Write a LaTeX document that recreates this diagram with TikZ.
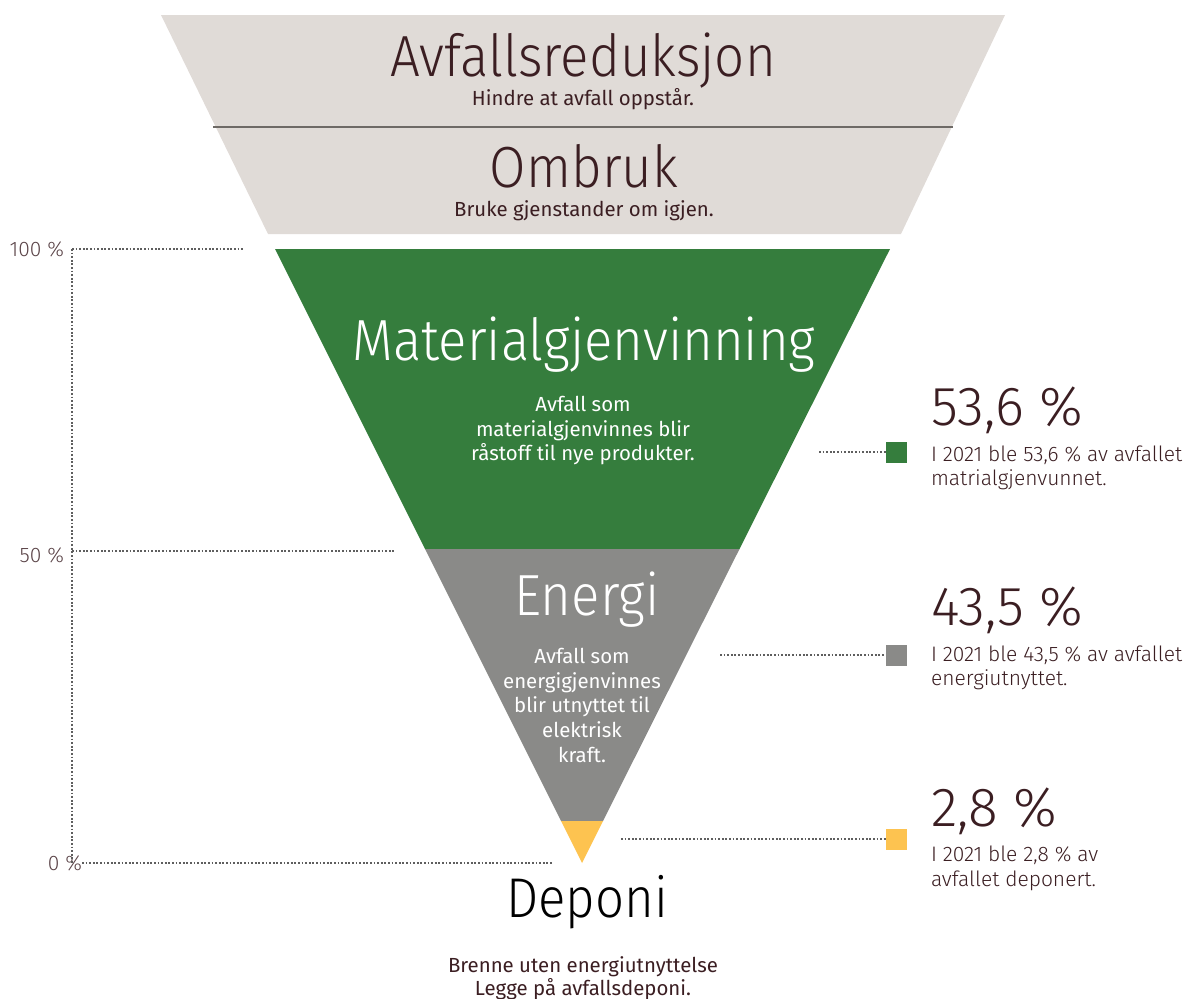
\documentclass[tikz,border=0pt]{standalone}
\usepackage{fontspec}
\setmainfont{Fira Sans}
\newfontfamily\lightfont{Fira Sans Light}
\newfontfamily\narrowlight{Fira Sans Light}[FakeStretch=0.91]
\definecolor{topgrey}{HTML}{E0DBD7}
\definecolor{sepline}{HTML}{6E6A66}
\definecolor{mgreen}{HTML}{357D3D}
\definecolor{mgrey}{HTML}{8A8A88}
\definecolor{myellow}{HTML}{FDC350}
\definecolor{tdark}{HTML}{3B1E22}
\definecolor{tlabel}{HTML}{5A4347}
\definecolor{dotc}{HTML}{5E5E5E}
\begin{document}
\begin{tikzpicture}[x=1pt,y=-1pt,
  every node/.style={inner sep=0pt,outer sep=0pt,anchor=base},
  head/.style={font=\narrowlight\fontsize{58}{60}\selectfont},
  sub/.style={font=\fontsize{20.4}{23}\selectfont},
  pct/.style={font=\lightfont\fontsize{55}{58}\selectfont,text=tdark,anchor=base west},
  desc/.style={font=\lightfont\fontsize{21}{24}\selectfont,text=tdark,anchor=base west},
  axl/.style={font=\lightfont\fontsize{21}{24}\selectfont,text=tlabel,anchor=base east},
  dots/.style={draw=dotc,line width=1.2pt,dash pattern=on 1.8pt off 1.8pt},
  sq/.style={minimum size=21pt,anchor=center}]
\useasboundingbox (0,0) rectangle (1187,999);
% funnel
\fill[topgrey] (161,15) -- (1005,15) -- (901,234) -- (268,234) -- cycle;
\coordinate (sepL) at (213,127);
\coordinate (sepR) at (953,127);
\draw[sepline,line width=2pt] (sepL) -- (sepR);
\fill[mgreen] (275,249) -- (890,249) -- (739.5,549) -- (425,549) -- cycle;
\fill[mgrey] (425,549) -- (739.5,549) -- (603,821) -- (561,821) -- cycle;
\fill[myellow] (561,821) -- (603,821) -- (582,863) -- cycle;
% top texts
\node[head,text=tdark] (t1) at (583,76) {Avfallsreduksjon};
\node[sub,text=tdark] (t1s) at (583,105) {Hindre at avfall oppstår.};
\node[head,text=tdark] (t2) at (584,187) {Ombruk};
\node[sub,text=tdark] (t2s) at (584,216) {Bruke gjenstander om igjen.};
% green
\node[head,text=white] (t3) at (584,360) {Materialgjenvinning};
\node[sub,text=white] (t3a) at (583,411) {Avfall som};
\node[sub,text=white] (t3b) at (583,436) {materialgjenvinnes blir};
\node[sub,text=white] (t3c) at (583,460) {råstoff til nye produkter.};
% grey
\node[head,text=white] (t4) at (587,615) {Energi};
\node[sub,text=white] (t4a) at (582,663) {Avfall som};
\node[sub,text=white] (t4b) at (582,688) {energigjenvinnes};
\node[sub,text=white] (t4c) at (582,712) {blir utnyttet til};
\node[sub,text=white] (t4d) at (582,737) {elektrisk};
\node[sub,text=white] (t4e) at (582,762) {kraft.};
% deponi
\node[head,text=black,font=\narrowlight\fontsize{56}{58}\selectfont] (t5) at (587,917) {Deponi};
\node[sub,text=tdark] (t5a) at (583,972) {Brenne uten energiutnyttelse};
\node[sub,text=tdark] (t5b) at (583,995) {Legge på avfallsdeponi.};
% axis
\node[axl] (a100) at (64,256) {100 \%};
\node[axl] (a50) at (64,562) {50 \%};
\node[axl] (a0) at (82,870) {0 \%};
\coordinate (v100) at (72,249);
\coordinate (v0) at (72,863);
\coordinate (h100) at (243,249);
\coordinate (v50) at (72,551);
\coordinate (h50) at (394,551);
\coordinate (h0s) at (82,863);
\coordinate (h0e) at (552,863);
\draw[dots] (v100) -- (h100);
\draw[dots] (v100) -- (v0);
\draw[dots] (v50) -- (h50);
\draw[dots] (h0s) -- (h0e);
% right legend
\node[sq,fill=mgreen] (s1) at (896,452) {};
\node[sq,fill=mgrey] (s2) at (896,655) {};
\node[sq,fill=myellow] (s3) at (896,839) {};
\coordinate (l1) at (819,452);
\coordinate (l2) at (720,655);
\coordinate (l3) at (621,839);
\draw[dots] (l1) -- (s1.west);
\draw[dots] (l2) -- (s2.west);
\draw[dots] (l3) -- (s3.west);
\node[pct] (p1) at (931,425) {53,6 \%};
\node[desc] (d1a) at (931,461) {I 2021 ble 53,6 \% av avfallet};
\node[desc] (d1b) at (931,485) {matrialgjenvunnet.};
\node[pct] (p2) at (931,625) {43,5 \%};
\node[desc] (d2a) at (931,661) {I 2021 ble 43,5 \% av avfallet};
\node[desc] (d2b) at (931,685) {energiutnyttet.};
\node[pct] (p3) at (931,826) {2,8 \%};
\node[desc] (d3a) at (931,861) {I 2021 ble 2,8 \% av};
\node[desc] (d3b) at (931,886) {avfallet deponert.};
\end{tikzpicture}
\end{document}
